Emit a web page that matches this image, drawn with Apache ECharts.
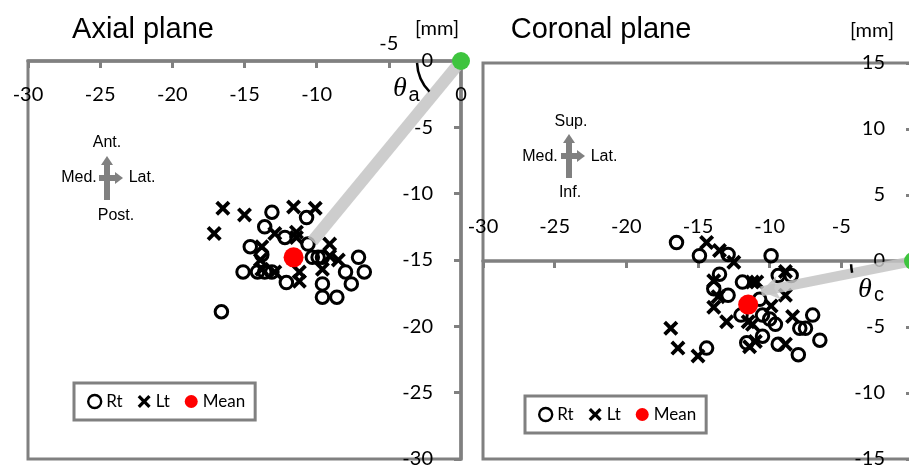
<!DOCTYPE html>
<html><head><meta charset="utf-8">
<script src="https://cdn.jsdelivr.net/npm/echarts@6/dist/echarts.min.js"></script>
<style>html,body{margin:0;padding:0;background:#fff}#c{width:909px;height:467px}</style>
</head><body><div id="c"></div>
<script>
// ---- Data ----
const axialXTicks = [-30, -25, -20, -15, -10, -5, 0];
const axialYTicks = [-30, -25, -20, -15, -10, -5, 0];
const coronalXTicks = [-30, -25, -20, -15, -10, -5, 0];
const coronalYTicks = [-15, -10, -5, 0, 5, 10, 15];

const axialRtX = [-13.1,-10.7,-13.6,-12.2,-14.6,-13.8,-10.6,-10.3,-9.9,-9.6,-7.1,-15.1,-14.1,-13.6,-13.1,-12.1,-8.0,-6.7,-9.6,-7.6,-9.6,-8.6,-16.6];
const axialRtY = [-11.4,-11.8,-12.5,-13.3,-14.0,-14.6,-13.8,-14.8,-14.8,-14.8,-14.8,-15.9,-15.9,-15.9,-15.9,-16.7,-15.9,-15.9,-16.8,-16.8,-17.8,-17.8,-18.9];
const axialLtX = [-16.5,-15.0,-17.1,-11.6,-10.1,-12.9,-11.4,-13.8,-13.9,-13.8,-9.1,-9.1,-8.5,-9.6,-11.2,-11.2,-12.9,-11.4];
const axialLtY = [-11.1,-11.6,-13.0,-11.0,-11.1,-13.0,-12.9,-14.0,-15.0,-15.7,-13.8,-14.7,-15.0,-15.7,-15.9,-16.6,-15.9,-13.3];
const axialMean = [-11.6, -14.8];
const axialBandEnd = [-10.3, -13.6];

const coronalRtX = [-16.5,-14.9,-12.9,-9.9,-13.5,-13.9,-12.9,-11.9,-9.4,-8.5,-10.7,-12.0,-10.5,-10.0,-9.6,-7.0,-7.9,-7.5,-10.5,-11.6,-9.4,-6.5,-8.0,-14.4];
const coronalRtY = [1.4,0.4,0.5,0.4,-1.0,-2.1,-2.6,-1.6,-1.1,-1.1,-2.9,-4.1,-4.1,-4.4,-4.8,-4.1,-5.1,-5.1,-5.7,-6.2,-6.3,-6.0,-7.1,-6.6];
const coronalLtX = [-14.4,-13.5,-12.5,-13.9,-11.2,-10.9,-8.9,-8.9,-9.9,-13.9,-13.0,-11.5,-11.2,-8.4,-16.9,-16.4,-15.0,-11.4,-11.0,-8.9,-13.6];
const coronalLtY = [1.4,0.8,-0.1,-1.5,-1.6,-1.6,-0.8,-2.6,-3.4,-3.5,-4.6,-4.6,-4.8,-4.2,-5.1,-6.6,-7.2,-6.5,-6.1,-6.3,-2.7];
const coronalMean = [-11.5, -3.3];
const coronalArrowEnd = [-10.6, -2.3];

const origin = [0, 0];
const legendNames = ['Rt', 'Lt', 'Mean'];

// ---- Styles ----
const GRAY = '#808080';
const crossPath = 'path://M1.8,0L5,3.2L8.2,0L10,1.8L6.8,5L10,8.2L8.2,10L5,6.8L1.8,10L0,8.2L3.2,5L0,1.8Z';
const zip = (xs, ys) => xs.map((x, i) => [x, ys[i]]);

function xAxisCfg(grid, ticks, inside, hideVal) {
  return {
    gridIndex: grid, type: 'value', min: ticks[0], max: ticks[ticks.length - 1], interval: 5,
    position: 'top', offset: 0,
    axisLine: { show: true, onZero: false, lineStyle: { color: GRAY, width: 3.5 } },
    axisTick: { show: true, inside: true, length: 7, lineStyle: { color: GRAY, width: 3 } },
    axisLabel: { inside: inside, margin: 24, fontFamily: 'Lato', fontSize: 20, color: '#000',
      formatter: v => (v === hideVal ? '' : String(v)) },
    splitLine: { show: false }
  };
}
function yAxisCfg(grid, ticks) {
  return {
    gridIndex: grid, type: 'value', min: ticks[0], max: ticks[ticks.length - 1], interval: 5,
    position: 'right',
    axisLine: { show: true, onZero: false, lineStyle: { color: GRAY, width: 3.5 } },
    axisTick: { show: true, inside: true, length: 7, lineStyle: { color: GRAY, width: 3 } },
    axisLabel: { inside: true, margin: 28, fontFamily: 'Lato', fontSize: 20, color: '#000' },
    splitLine: { show: false }
  };
}
function pointSeries(ai, rt, lt, mean) {
  return [
    { name: 'Rt', type: 'scatter', xAxisIndex: ai, yAxisIndex: ai, data: rt, symbol: 'circle', symbolSize: 12.5,
      itemStyle: { color: 'rgba(0,0,0,0)', borderColor: '#000', borderWidth: 3, opacity: 1 }, z: 2, silent: true },
    { name: 'Lt', type: 'scatter', xAxisIndex: ai, yAxisIndex: ai, data: lt, symbol: crossPath, symbolSize: 15,
      itemStyle: { color: '#000', opacity: 1 }, z: 2, silent: true },
    { name: 'Mean', type: 'scatter', xAxisIndex: ai, yAxisIndex: ai, data: [mean], symbol: 'circle', symbolSize: 20,
      itemStyle: { color: '#ff0000', opacity: 1 }, z: 6, silent: true },
    { type: 'scatter', xAxisIndex: ai, yAxisIndex: ai, data: [origin], symbol: 'circle', symbolSize: 18,
      itemStyle: { color: '#3ec43e', opacity: 1 }, z: 8, clip: false, silent: true }
  ];
}
function legendCfg(left, top) {
  return {
    left: left, top: top, orient: 'horizontal', itemWidth: 13, itemHeight: 13, itemGap: 15,
    padding: [10, 10, 10, 13], borderColor: GRAY, borderWidth: 3, borderRadius: 0,
    selectedMode: false,
    textStyle: { fontFamily: 'Lato', fontSize: 17, color: '#000' },
    data: [
      { name: legendNames[0], icon: 'circle', itemStyle: { color: '#fff', borderColor: '#000', borderWidth: 2.4, opacity: 1 } },
      { name: legendNames[1], icon: crossPath, itemStyle: { color: '#000', opacity: 1 } },
      { name: legendNames[2], icon: 'circle', itemStyle: { color: '#ff0000', opacity: 1 } }
    ]
  };
}

const chart = echarts.init(document.getElementById('c'), null, { renderer: 'canvas' });
const option = {
  animation: false,
  backgroundColor: '#fff',
  grid: [
    { left: 28, top: 61, right: 448, bottom: 8, show: true, borderColor: GRAY, borderWidth: 3,
      containLabel: false, outerBoundsMode: 'none' },
    { left: 483, top: 63, right: -4, bottom: 8, show: true, borderColor: GRAY, borderWidth: 3,
      containLabel: false, outerBoundsMode: 'none' }
  ],
  xAxis: [xAxisCfg(0, axialXTicks, true, -5), xAxisCfg(1, coronalXTicks, false, 0)],
  yAxis: [yAxisCfg(0, axialYTicks), yAxisCfg(1, coronalYTicks)],
  legend: [legendCfg(74, 383), legendCfg(525, 396)],
  series: [
    ...pointSeries(0, zip(axialRtX, axialRtY), zip(axialLtX, axialLtY), axialMean),
    { type: 'line', xAxisIndex: 0, yAxisIndex: 0, data: [origin, axialBandEnd], symbol: 'none', silent: true,
      lineStyle: { color: '#c4c4c4', width: 12, opacity: 0.85, cap: 'butt' }, z: 4 },
    ...pointSeries(1, zip(coronalRtX, coronalRtY), zip(coronalLtX, coronalLtY), coronalMean),
    { type: 'lines', coordinateSystem: 'cartesian2d', xAxisIndex: 1, yAxisIndex: 1, silent: true,
      data: [{ coords: [origin, coronalArrowEnd] }], symbol: ['none', 'arrow'], symbolSize: 18,
      lineStyle: { color: '#c4c4c4', width: 10, opacity: 0.85, curveness: 0 }, z: 4 }
  ]
};
chart.setOption(option);

// Move the coronal x axis down to y = 0 (keeping its labels next to the line)
const o1a = chart.convertToPixel({ gridIndex: 1 }, origin);
const top1 = chart.convertToPixel({ gridIndex: 1 }, [0, coronalYTicks[coronalYTicks.length - 1]]);
chart.setOption({ xAxis: [{}, { offset: -(o1a[1] - top1[1]) }] });

// ---- Annotations (positioned from the axes' own scales) ----
const o0 = chart.convertToPixel({ gridIndex: 0 }, origin);
const o1 = chart.convertToPixel({ gridIndex: 1 }, origin);
const m5 = chart.convertToPixel({ gridIndex: 0 }, [-5, 0]);

function txt(x, y, text, font, align) {
  return { type: 'text', x: x, y: y, silent: true, z: 10,
    style: { text: text, font: font, fill: '#000', align: align || 'center', verticalAlign: 'middle' } };
}
function dirCross(cx, cy, labels, pos) {
  const els = [
    { type: 'rect', shape: { x: cx - 3, y: cy - 14, width: 6, height: 36 }, style: { fill: GRAY } },
    { type: 'polygon', shape: { points: [[cx - 6, cy - 13], [cx, cy - 22], [cx + 6, cy - 13]] }, style: { fill: GRAY } },
    { type: 'rect', shape: { x: cx - 8, y: cy - 3, width: 16, height: 6 }, style: { fill: GRAY } },
    { type: 'polygon', shape: { points: [[cx + 8, cy - 6], [cx + 16, cy], [cx + 8, cy + 6]] }, style: { fill: GRAY } }
  ];
  labels.forEach((l, i) => els.push(txt(pos[i][0], pos[i][1], l, '16px "Liberation Sans"')));
  return els;
}

const graphics = [
  txt(143, 30, 'Axial plane', '29px "Liberation Sans"'),
  txt(601, 30, 'Coronal plane', '29px "Liberation Sans"'),
  txt(437, 29, '[mm]', '20px Lato'),
  txt(872, 31, '[mm]', '20px Lato'),
  txt(m5[0], m5[1] - 17, '-5', '20px Lato'),
  { type: 'arc', silent: true, z: 10, shape: { cx: o0[0], cy: o0[1], r: 44, startAngle: 2.37, endAngle: 3.10, clockwise: true },
    style: { stroke: '#000', lineWidth: 2.5, fill: null } },
  { type: 'arc', silent: true, z: 10, shape: { cx: o1[0], cy: o1[1], r: 62, startAngle: 2.95, endAngle: 3.09, clockwise: true },
    style: { stroke: '#000', lineWidth: 2.5, fill: null } },
  txt(o0[0] - 61, o0[1] + 28, 'θ', 'italic 28px "Liberation Serif"'),
  txt(o0[0] - 47, o0[1] + 34, 'a', '20px "Liberation Sans"'),
  txt(o1[0] - 48, o1[1] + 29, 'θ', 'italic 28px "Liberation Serif"'),
  txt(o1[0] - 34, o1[1] + 34, 'c', '20px "Liberation Sans"'),
  ...dirCross(107, 178, ['Ant.', 'Med.', 'Lat.', 'Post.'], [[107, 143], [79, 178], [142, 178], [116, 216]]),
  ...dirCross(569, 156, ['Sup.', 'Med.', 'Lat.', 'Inf.'], [[571, 122], [540, 157], [604, 157], [570, 193]])
];
chart.setOption({ graphic: graphics });
</script>
</body></html>
